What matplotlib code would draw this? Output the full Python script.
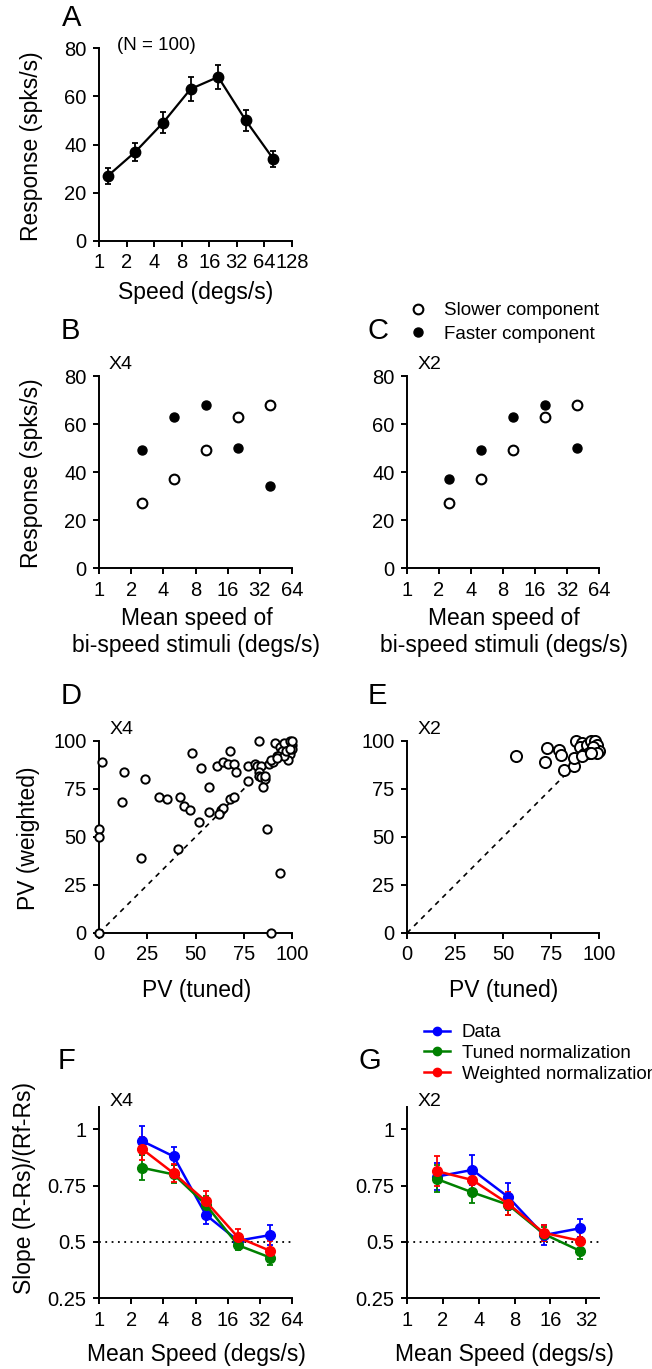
import numpy as np
import matplotlib
matplotlib.use("Agg")
import matplotlib.pyplot as plt
from matplotlib.lines import Line2D

plt.rcParams['font.family'] = ['Liberation Sans', 'DejaVu Sans']

W, H = 652, 1369

# ----------------------------
# Data
# ----------------------------
speeds = [1.25, 2.5, 5, 10, 20, 40, 80]
resp = [27, 37, 49, 63, 68, 50, 34]
resp_err = [3.2, 3.7, 4.4, 4.8, 5.0, 4.4, 3.3]

mean_speeds = [2.5, 5, 10, 20, 40]
x4_slow = [27, 37, 49, 63, 68]
x4_fast = [49, 63, 68, 50, 34]
x2_slow = [27, 37, 49, 63, 68]
x2_fast = [37, 49, 63, 68, 50]

pv_tuned_x4 = [1.5, 13, 12, 24, 31, 35, 42, 44, 47, 48, 53, 52, 41, 22, 0, 0, 0,
               83, 68, 61, 64, 67, 70, 71, 57, 77, 77, 81, 82, 84, 83, 83, 84, 86, 86,
               85, 87, 94, 89, 68, 70, 57, 63, 64, 62, 88, 90, 92, 91, 94, 95, 96, 99,
               100, 99, 98, 93, 89, 96, 100, 97, 92, 99, 100]
pv_weighted_x4 = [89, 84, 68, 80, 71, 70, 71, 66, 64, 94, 86, 58, 44, 39, 54, 50, 0,
                  100, 95, 87, 89, 88, 88, 84, 76, 79, 87, 88, 87, 87, 84, 82, 81, 80, 82,
                  76, 54, 31, 0, 70, 71, 63, 64, 65, 62, 88, 89, 92, 99, 97, 95, 99, 100,
                  98, 93, 90, 92, 90, 92, 96, 95, 91, 96, 100]

pv_tuned_x2 = [57, 73, 72, 79, 80, 82, 87, 87, 88, 91, 90, 92, 94, 94, 96, 98, 99,
               100, 97, 97, 95, 91, 99, 96]
pv_weighted_x2 = [92, 96.5, 89, 95.5, 92.5, 85, 87, 91, 100, 99, 97, 93, 95, 98, 100,
                  100, 98, 95, 95, 97, 94, 92, 94, 94]

f_x = [2.5, 5, 10, 20, 40]
f_data = [0.95, 0.88, 0.62, 0.505, 0.53]
f_data_err = [0.065, 0.04, 0.04, 0.03, 0.045]
f_tuned = [0.83, 0.80, 0.665, 0.485, 0.43]
f_tuned_err = [0.055, 0.04, 0.04, 0.02, 0.035]
f_weighted = [0.915, 0.805, 0.68, 0.52, 0.46]
f_weighted_err = [0.05, 0.04, 0.045, 0.035, 0.045]

g_x = [1.77, 3.54, 7.07, 14.1, 28.3]
g_data = [0.79, 0.82, 0.70, 0.53, 0.56]
g_data_err = [0.06, 0.065, 0.06, 0.045, 0.04]
g_tuned = [0.78, 0.72, 0.665, 0.535, 0.46]
g_tuned_err = [0.06, 0.047, 0.045, 0.03, 0.035]
g_weighted = [0.815, 0.775, 0.67, 0.54, 0.505]
g_weighted_err = [0.065, 0.05, 0.05, 0.035, 0.04]

TICK_FS = 14.5
LABEL_FS = 16.5
LETTER_FS = 21
SMALL_FS = 13.5

fig = plt.figure(figsize=(W / 100, H / 100), dpi=100)


def add_ax(left, top, right, bottom):
    return fig.add_axes([left / W, 1 - bottom / H, (right - left) / W, (bottom - top) / H])


def ftext(x, y, s, **kw):
    kw.setdefault('ha', 'center')
    kw.setdefault('va', 'center')
    fig.text(x / W, 1 - y / H, s, **kw)


def style(ax):
    for side in ['top', 'right']:
        ax.spines[side].set_visible(False)
    for side in ['left', 'bottom']:
        ax.spines[side].set_linewidth(1.4)
    ax.tick_params(direction='out', length=4, width=1.4, labelsize=TICK_FS, pad=5)


def log2_axis(ax, ticks, right):
    ax.set_xscale('log', base=2)
    ax.set_xlim(1, right)
    ax.set_xticks(ticks)
    ax.set_xticklabels([str(t) for t in ticks])
    ax.minorticks_off()


# ----------------------------
# A: speed tuning
# ----------------------------
axA = add_ax(99, 48, 292, 241)
style(axA)
axA.errorbar(speeds, resp, yerr=resp_err, color='black', marker='o', ms=7.5,
             lw=1.6, capsize=2.5, elinewidth=1.3, capthick=1.3, clip_on=False)
log2_axis(axA, [1, 2, 4, 8, 16, 32, 64, 128], 128)
axA.set_ylim(0, 80)
axA.set_yticks([0, 20, 40, 60, 80])
ftext(156, 45, '(N = 100)', fontsize=SMALL_FS)
ftext(72, 18, 'A', fontsize=LETTER_FS)
ftext(32, 146, 'Response (spks/s)', fontsize=LABEL_FS, rotation=90)
ftext(196, 293, 'Speed (degs/s)', fontsize=LABEL_FS)

# ----------------------------
# B, C: bi-speed responses
# ----------------------------
for left, right, slow, fast, tag, letter, lx in [
        (99, 292, x4_slow, x4_fast, 'X4', 'B', 70),
        (407, 599, x2_slow, x2_fast, 'X2', 'C', 378)]:
    ax = add_ax(left, 376, right, 568)
    style(ax)
    ax.plot(mean_speeds, slow, 'o', ms=7, mfc='white', mec='black', mew=1.5,
            clip_on=False, label='Slower component')
    ax.plot(mean_speeds, fast, 'o', ms=6.5, mfc='black', mec='black',
            clip_on=False, label='Faster component')
    log2_axis(ax, [1, 2, 4, 8, 16, 32, 64], 64)
    ax.set_ylim(0, 80)
    ax.set_yticks([0, 20, 40, 60, 80])
    ftext(left + 22, 364, tag, fontsize=SMALL_FS + 0.5)
    ftext(lx, 331, letter, fontsize=LETTER_FS)
    cx = (left + right) / 2 + 1
    ftext(cx, 632, 'Mean speed of\nbi-speed stimuli (degs/s)', fontsize=LABEL_FS,
          linespacing=1.2)
    if letter == 'C':
        ax.legend(loc='upper left', bbox_to_anchor=(410 / W, 1 - 302 / H),
                  bbox_transform=fig.transFigure, frameon=False, fontsize=SMALL_FS,
                  handlelength=0.8, handletextpad=1.0, borderpad=0, borderaxespad=0,
                  labelspacing=0.35)
ftext(32, 473, 'Response (spks/s)', fontsize=LABEL_FS, rotation=90)

# ----------------------------
# D, E: PV scatter
# ----------------------------
for left, right, tx, ty, tag, letter, lx, ms in [
        (99, 292, pv_tuned_x4, pv_weighted_x4, 'X4', 'D', 71, 6),
        (407, 599, pv_tuned_x2, pv_weighted_x2, 'X2', 'E', 377, 8)]:
    ax = add_ax(left, 741, right, 933)
    style(ax)
    ax.plot([0, 100], [0, 100], color='black', lw=1.2, ls=(0, (3, 3)), zorder=1)
    ax.plot(tx, ty, 'o', ms=ms, mfc='white', mec='black', mew=1.4,
            clip_on=False, zorder=3)
    ax.set_xlim(0, 100)
    ax.set_ylim(0, 100)
    ax.set_xticks([0, 25, 50, 75, 100])
    ax.set_yticks([0, 25, 50, 75, 100])
    ftext(left + 23, 729, tag, fontsize=SMALL_FS + 0.5)
    ftext(lx, 696, letter, fontsize=LETTER_FS)
    ftext((left + right) / 2 + 1, 990, 'PV (tuned)', fontsize=LABEL_FS)
ftext(29, 838, 'PV (weighted)', fontsize=LABEL_FS, rotation=90)

# ----------------------------
# F, G: slopes
# ----------------------------
series_f = [(f_data, f_data_err, 'blue', 'Data'),
            (f_tuned, f_tuned_err, 'green', 'Tuned normalization'),
            (f_weighted, f_weighted_err, 'red', 'Weighted normalization')]
series_g = [(g_data, g_data_err, 'blue', 'Data'),
            (g_tuned, g_tuned_err, 'green', 'Tuned normalization'),
            (g_weighted, g_weighted_err, 'red', 'Weighted normalization')]

for left, right, xs, series, ticks, xmax, tag, letter, lx in [
        (99, 292, f_x, series_f, [1, 2, 4, 8, 16, 32, 64], 64, 'X4', 'F', 67),
        (407, 599, g_x, series_g, [1, 2, 4, 8, 16, 32], 41, 'X2', 'G', 370)]:
    ax = add_ax(left, 1107, right, 1298)
    style(ax)
    ax.plot([1, xmax], [0.5, 0.5], color='black', lw=1.3, ls=(0, (1, 2.5)), zorder=1)
    for vals, errs, col, lab in series:
        ax.errorbar(xs, vals, yerr=errs, color=col, marker='o', ms=7, lw=1.8,
                    capsize=2.5, elinewidth=1.3, capthick=1.3, label=lab)
    log2_axis(ax, ticks, xmax)
    ax.set_ylim(0.25, 1.1)
    ax.set_yticks([0.25, 0.5, 0.75, 1])
    ax.set_yticklabels(['0.25', '0.5', '0.75', '1'])
    ftext(left + 23, 1102, tag, fontsize=SMALL_FS + 0.5)
    ftext(lx, 1061, letter, fontsize=LETTER_FS)
    ftext((left + right) / 2 + 1, 1355, 'Mean Speed (degs/s)', fontsize=LABEL_FS)
    if letter == 'G':
        handles = [Line2D([], [], color=c, marker='o', ms=6, lw=1.8) for _, _, c, _ in series]
        ax.legend(handles, [s[3] for s in series], loc='upper left',
                  bbox_to_anchor=(424 / W, 1 - 1024 / H), bbox_transform=fig.transFigure,
                  frameon=False, fontsize=SMALL_FS, handlelength=1.4, handletextpad=0.6,
                  borderpad=0, borderaxespad=0, labelspacing=0.2)
ftext(25, 1188, 'Slope (R-Rs)/(Rf-Rs)', fontsize=LABEL_FS, rotation=90)

fig.savefig('out.png', dpi=100)
